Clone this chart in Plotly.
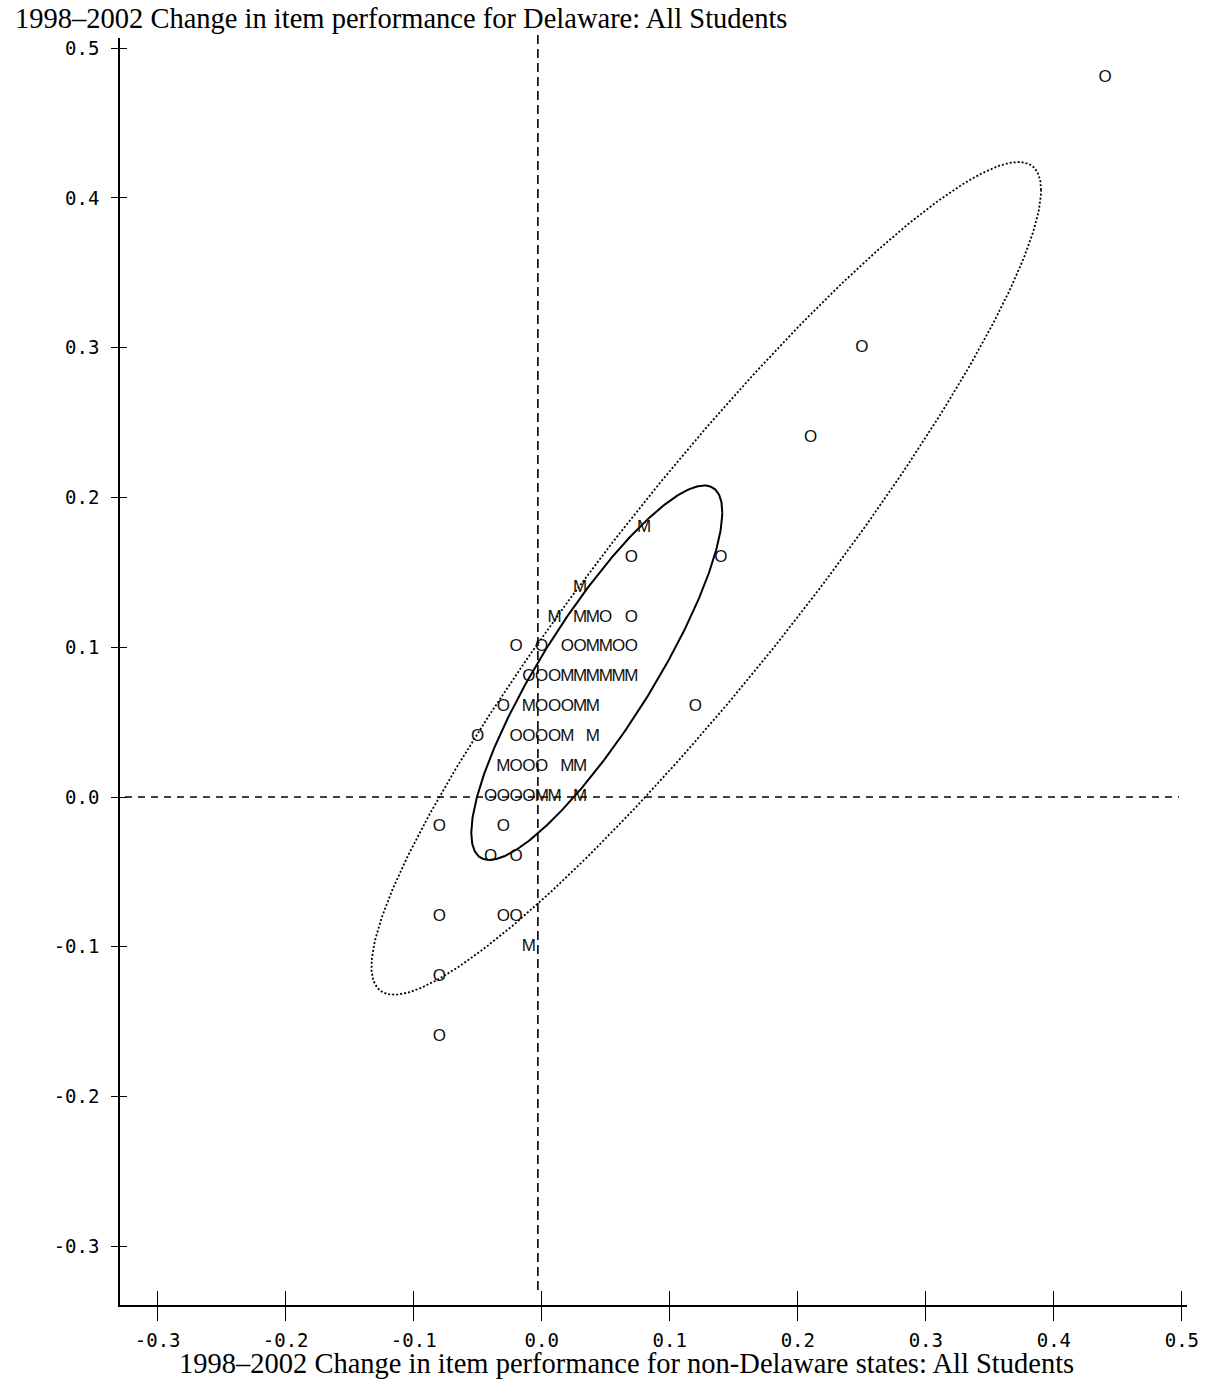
import numpy as np
import plotly.graph_objects as go

# ---- data ----
o_x = [0.44, 0.25, 0.21, 0.07, 0.14, 0.05, 0.07,
       -0.02, 0.00, 0.02, 0.03, 0.06, 0.07,
       -0.01, 0.00, 0.01,
       -0.03, 0.00, 0.01, 0.02, 0.12,
       -0.05, -0.02, -0.01, 0.00, 0.01,
       -0.02, -0.01, 0.00,
       -0.04, -0.03, -0.02, -0.01,
       -0.08, -0.03,
       -0.04, -0.02,
       -0.08, -0.03, -0.02,
       -0.08, -0.08]
o_y = [0.48, 0.30, 0.24, 0.16, 0.16, 0.12, 0.12,
       0.10, 0.10, 0.10, 0.10, 0.10, 0.10,
       0.08, 0.08, 0.08,
       0.06, 0.06, 0.06, 0.06, 0.06,
       0.04, 0.04, 0.04, 0.04, 0.04,
       0.02, 0.02, 0.02,
       0.00, 0.00, 0.00, 0.00,
       -0.02, -0.02,
       -0.04, -0.04,
       -0.08, -0.08, -0.08,
       -0.12, -0.16]

m_x = [0.08, 0.03, 0.01, 0.03, 0.04, 0.04, 0.05,
       0.02, 0.03, 0.04, 0.05, 0.06, 0.07,
       -0.01, 0.03, 0.04,
       0.02, 0.04,
       -0.03, 0.02, 0.03,
       0.00, 0.01, 0.03,
       -0.01]
m_y = [0.18, 0.14, 0.12, 0.12, 0.12, 0.10, 0.10,
       0.08, 0.08, 0.08, 0.08, 0.08, 0.08,
       0.06, 0.06, 0.06,
       0.04, 0.04,
       0.02, 0.02, 0.02,
       0.00, 0.00, 0.00,
       -0.10]

x_ticks = [-0.3, -0.2, -0.1, 0.0, 0.1, 0.2, 0.3, 0.4, 0.5]
y_ticks = [-0.3, -0.2, -0.1, 0.0, 0.1, 0.2, 0.3, 0.4, 0.5]
x_tick_text = ["-0.3", "-0.2", "-0.1", "0.0", "0.1", "0.2", "0.3", "0.4", "0.5"]
y_tick_text = ["-0.3", "-0.2", "-0.1", "0.0", "0.1", "0.2", "0.3", "0.4", "0.5"]

# ellipse parameters: centre, x/y half-extents, phase
inner_ellipse = dict(cx=0.043, cy=0.083, ax=0.098, ay=0.125, phi=0.543)
outer_ellipse = dict(cx=0.1285, cy=0.146, ax=0.2615, ay=0.278, phi=0.37)

ref_x = -0.003   # vertical reference line
ref_y = 0.0      # horizontal reference line

title_text = "1998\u20132002 Change in item performance for Delaware: All Students"
xtitle_text = "1998\u20132002 Change in item performance for non-Delaware states: All Students"

X_RANGE = [-0.3294, 0.504]
Y_RANGE = [-0.3392, 0.5068]


def ellipse(p, n=400):
    t = np.linspace(0, 2 * np.pi, n)
    return p["cx"] + p["ax"] * np.cos(t), p["cy"] + p["ay"] * np.cos(t - p["phi"])


fig = go.Figure()

ex, ey = ellipse(outer_ellipse)
fig.add_trace(go.Scatter(x=ex, y=ey, mode="lines",
                         line=dict(color="black", width=1.8, dash="2px,2px"),
                         hoverinfo="skip", showlegend=False))
ex, ey = ellipse(inner_ellipse)
fig.add_trace(go.Scatter(x=ex, y=ey, mode="lines",
                         line=dict(color="black", width=2),
                         hoverinfo="skip", showlegend=False))

mfont = dict(family="Liberation Sans, Arial, sans-serif", size=17, color="#111")
fig.add_trace(go.Scatter(x=o_x, y=o_y, mode="text", text=["O"] * len(o_x),
                         textposition="middle center", textfont=mfont,
                         showlegend=False, cliponaxis=False))
fig.add_trace(go.Scatter(x=m_x, y=m_y, mode="text", text=["M"] * len(m_x),
                         textposition="middle center", textfont=mfont,
                         showlegend=False, cliponaxis=False))
# invisible trace on overlay axes (for inside ticks)
fig.add_trace(go.Scatter(x=[0], y=[0], xaxis="x2", yaxis="y2", mode="markers",
                         marker=dict(opacity=0), hoverinfo="skip", showlegend=False))

# reference lines
fig.add_shape(type="line", xref="x", yref="y", x0=-0.3255, x1=0.4977, y0=ref_y, y1=ref_y,
              line=dict(color="black", width=1.6, dash="7px,6px"))
fig.add_shape(type="line", xref="x", yref="paper", x0=ref_x, x1=ref_x, y0=0.0118, y1=1.0047,
              line=dict(color="black", width=1.6, dash="9px,5px"))

tickfont = dict(family="DejaVu Sans Mono, monospace", size=19, color="black")
common = dict(showgrid=False, zeroline=False, showline=False, mirror=False)

fig.update_layout(
    width=1211, height=1386,
    margin=dict(l=120, r=21, t=38, b=81),
    paper_bgcolor="white", plot_bgcolor="white",
    xaxis=dict(range=X_RANGE, tickvals=x_ticks, ticktext=x_tick_text, ticks="outside",
               ticklen=14, tickwidth=1.3, tickcolor="black", showline=True, linecolor="black",
               linewidth=1.5, tickfont=tickfont, ticklabelstandoff=3,
               showgrid=False, zeroline=False),
    yaxis=dict(range=Y_RANGE, tickvals=y_ticks, ticktext=y_tick_text, ticks="outside",
               ticklen=7, tickwidth=1.3, tickcolor="black", showline=True, linecolor="black",
               linewidth=1.5, tickfont=tickfont, ticklabelstandoff=8,
               showgrid=False, zeroline=False),
    xaxis2=dict(range=X_RANGE, tickvals=x_ticks, ticks="inside", ticklen=14, tickwidth=1.3,
                tickcolor="black", showticklabels=False, overlaying="x", anchor="y",
                side="bottom", **common),
    yaxis2=dict(range=Y_RANGE, tickvals=y_ticks, ticks="inside", ticklen=7, tickwidth=1.3,
                tickcolor="black", showticklabels=False, overlaying="y", anchor="x",
                side="left", **common),
    annotations=[
        dict(text=title_text, xref="paper", yref="paper", x=-0.1, y=1.015,
             xanchor="left", yanchor="middle", showarrow=False,
             font=dict(family="Liberation Serif, Times New Roman, serif", size=28.5, color="black")),
        dict(text=xtitle_text, xref="paper", yref="paper", x=0.4748, y=-0.0458,
             xanchor="center", yanchor="middle", showarrow=False,
             font=dict(family="Liberation Serif, Times New Roman, serif", size=28.5, color="black")),
    ],
)

fig.write_html("out.html")
